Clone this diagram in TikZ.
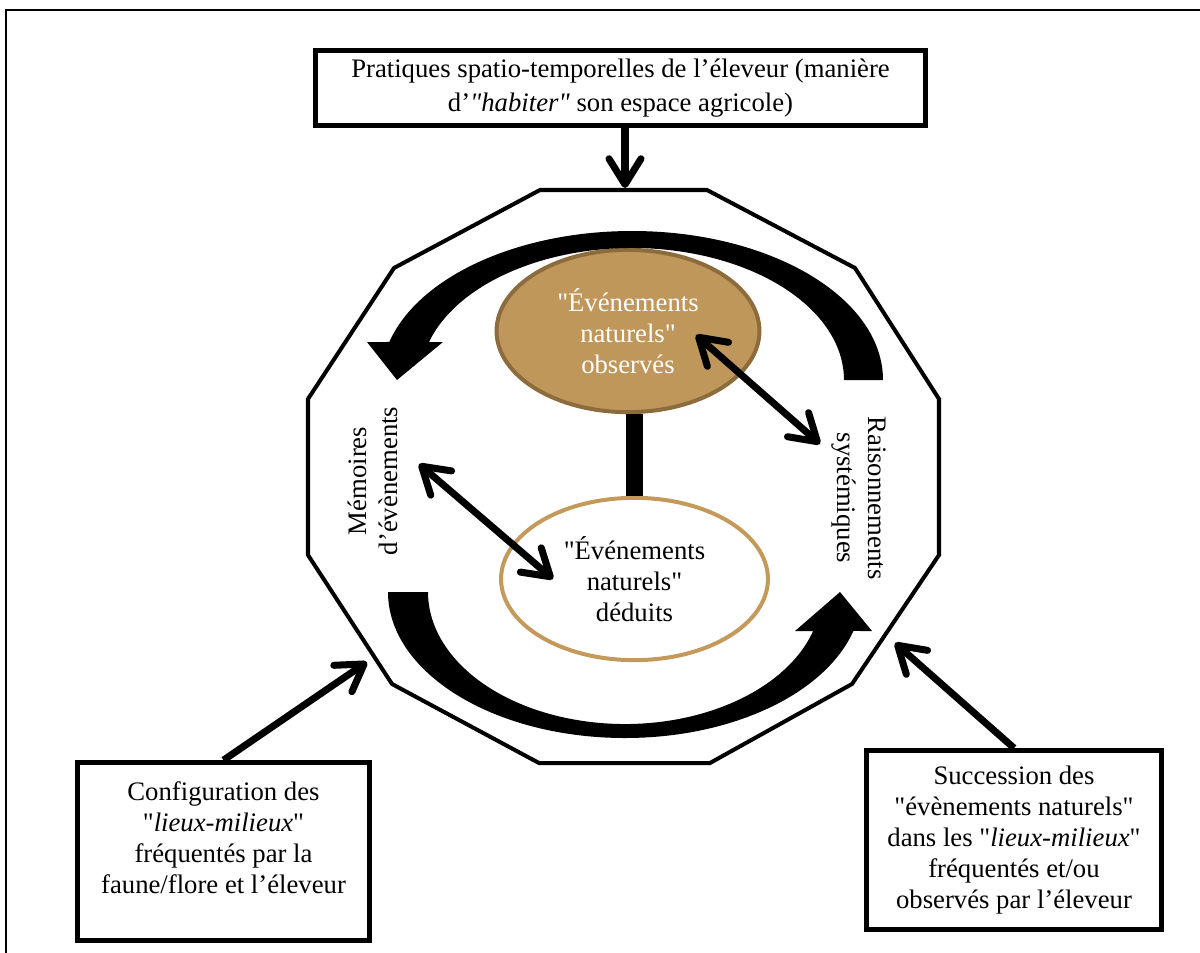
\documentclass[tikz,border=0pt]{standalone}
\usepackage{fontspec}
\setmainfont{Liberation Serif}[Ligatures=TeXOff]
\usetikzlibrary{shapes.geometric,arrows.meta,positioning}
\definecolor{tanfill}{HTML}{C0975A}
\definecolor{tanline}{HTML}{8C6C3C}
\definecolor{tanring}{HTML}{C49A5C}

\begin{document}
\begin{tikzpicture}[x=1.75cm,y=-1.75cm,>={Straight Barb[length=4.5mm,width=5.6mm,round]},
box/.style={draw,line width=2.5pt,align=center,font=\fontsize{13.3}{15.4}\selectfont},
event/.style={ellipse,line width=2pt,minimum width=4.6cm,minimum height=2.84cm,align=center,font=\fontsize{13.3}{15.4}\selectfont},
side/.style={align=center,font=\fontsize{13.3}{15.4}\selectfont},
link/.style={line width=3.5pt},]
\useasboundingbox (0,0) rectangle (12,9.53);
\draw[line width=1pt] (0.06,9.53) -- (0.06,0.10) -- (12,0.10);
% boxes
\node (prat) at (6.205,0.88)[box,minimum width=10.67cm,minimum height=1.31cm,font=\fontsize{13.3}{17}\selectfont] {Pratiques spatio-temporelles de l’éleveur (manière\\ d’\textit{"habiter"} son espace agricole)};
\node (config) at (2.235,8.515)[box,minimum width=5.11cm,minimum height=3.11cm,text depth=14pt] {Configuration des\\ "\textit{lieux-milieux}"\\ fréquentés par la\\ faune/flore et l’éleveur};
\node (succ) at (10.14,8.40)[box,minimum width=5.16cm,minimum height=3.13cm] {Succession des\\ "évènements naturels"\\ dans les "\textit{lieux-milieux}"\\ fréquentés et/ou\\ observés par l’éleveur};
% polygone
\draw[line width=2pt] (5.40,1.90) -- (7.07,1.90) -- (8.55,2.68) -- (9.39,3.99) -- (9.39,5.55) -- (8.52,6.84) -- (7.10,7.63) -- (5.39,7.63) -- (3.92,6.84) -- (3.08,5.55) -- (3.08,3.99) -- (3.94,2.68) -- cycle;
\coordinate (ptop) at (6.25,1.88);
\coordinate (pleft) at (3.67,6.62);
\coordinate (pright) at (8.95,6.43);
% ellipses
\node (obs) at (6.28,3.31)[event,draw=tanline,fill=tanfill,text=white] {"Événements\\ naturels"\\ observés};
\node (ded) at (6.345,5.79)[event,draw=tanring,minimum width=4.67cm] {"Événements\\ naturels"\\ déduits};
\draw[line width=8pt] (ded.north) -- (ded.north |- obs.south);
\node (mem) at (3.73,4.81)[side,rotate=90] {Mémoires\\ d’évènements};
\node (rais) at (8.59,4.98)[side,rotate=-90] {Raisonnements\\ systémiques};
% fleches courbes
\fill (8.83,3.80) arc[start angle=0,end angle=-165.22,x radius=2.51,y radius=1.49] -- (3.67,3.42) -- (3.97,3.80) -- (4.43,3.42) -- (4.29,3.42) arc[start angle=-163.27,end angle=0,x radius=2.12,y radius=1.32] -- cycle;
\fill (3.88,5.92) arc[start angle=180,end angle=15.49,x radius=2.37,y radius=1.46] -- (8.72,6.31) -- (8.40,5.92) -- (7.95,6.31) -- (8.132,6.31) arc[start angle=17.18,end angle=180,x radius=1.97,y radius=1.32] -- cycle;
% fleches
\coordinate (o1) at (6.96,3.35);
\coordinate (r1) at (8.20,4.44);
\coordinate (m1) at (4.19,4.64);
\coordinate (d1) at (5.53,5.79);
\draw[link,<->] (o1) -- (r1);
\draw[link,<->] (m1) -- (d1);
\draw[link,->] (ptop |- prat.south) -- (ptop);
\draw[link,->] (config.north) -- (pleft);
\draw[link,->] (succ.north) -- (pright);
\end{tikzpicture}
\end{document}
